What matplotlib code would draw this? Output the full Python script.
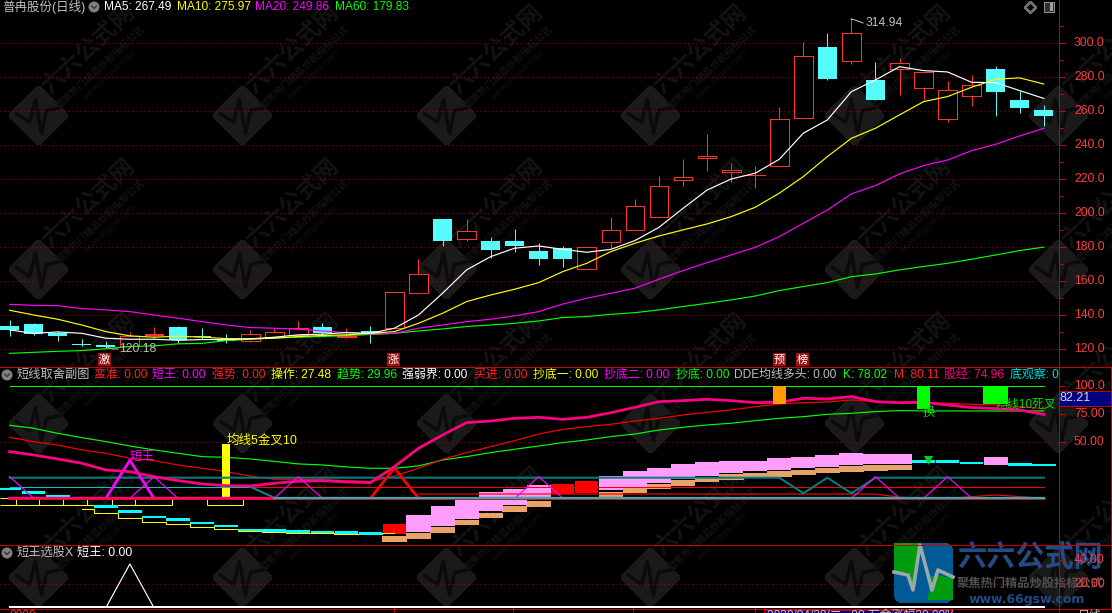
import matplotlib
matplotlib.use("Agg")
import matplotlib.pyplot as plt
from matplotlib.patches import Polygon, FancyBboxPatch, Rectangle, Circle

plt.rcParams['font.family'] = ['Liberation Sans', 'Noto Sans CJK SC', 'DejaVu Sans']
plt.rcParams['patch.antialiased'] = False
plt.rcParams['lines.scale_dashes'] = False

# ---- main panel values ----
candle_open = [133.4, 134.5, 128.9, 122.8, 122.2, 121.8, 128.2, 132.8, 127.3, 125.9, 124.3, 126.7, 128.1, 132.8, 127.1,
               130.4, 132.4, 153.0, 196.4, 184.9, 183.5, 183.5, 177.6, 179.2, 167.2, 183.1, 190.2, 197.8, 219.6, 232.6,
               224.1, 222.2, 227.9, 256.2, 297.8, 289.8, 278.4, 284.7, 273.9, 255.2, 269.2, 284.9, 266.6, 260.7]
candle_close = [131.0, 128.7, 127.5, 122.4, 120.8, 127.5, 128.8, 124.9, 126.9, 124.3, 128.5, 129.6, 132.4, 128.9, 127.7,
                128.5, 153.2, 163.8, 183.5, 189.2, 178.2, 180.5, 172.9, 172.9, 179.7, 189.8, 203.9, 215.7, 221.0, 233.8,
                225.3, 222.6, 255.2, 292.3, 279.0, 305.9, 266.6, 288.2, 282.9, 272.3, 275.2, 271.5, 262.1, 257.4]
candle_high = [136.9, 135.3, 130.4, 125.5, 124.5, 129.8, 132.8, 133.4, 132.2, 128.5, 131.0, 132.4, 136.3, 135.3, 132.0,
               133.4, 153.2, 172.7, 196.4, 196.4, 185.8, 190.5, 182.1, 180.5, 180.1, 197.6, 208.2, 221.8, 231.8, 246.6,
               229.5, 227.7, 262.5, 300.8, 306.1, 314.94, 289.0, 291.4, 282.9, 277.8, 281.3, 286.8, 272.1, 263.6]
candle_low = [127.7, 128.3, 124.7, 121.8, 120.18, 121.2, 126.5, 123.5, 125.5, 123.0, 123.9, 126.3, 127.5, 127.5, 126.3,
              123.3, 132.0, 152.4, 180.5, 183.5, 173.3, 177.0, 169.3, 168.3, 167.2, 179.2, 190.2, 197.8, 216.1, 224.7,
              218.5, 214.9, 227.9, 256.2, 278.4, 288.0, 266.6, 269.5, 266.4, 253.8, 263.1, 257.2, 258.9, 251.3]

ma5 = [131.0, 129.0, 129.8, 129.0, 126.1, 125.5, 125.5, 124.9, 125.3, 125.3, 125.7, 126.7, 128.1, 128.5, 129.4,
       129.0, 132.0, 139.8, 152.6, 166.4, 174.2, 179.2, 180.5, 178.5, 176.8, 178.5, 183.7, 191.5, 202.7, 213.5,
       220.0, 223.4, 231.6, 247.0, 254.8, 271.5, 278.4, 286.2, 283.9, 283.1, 277.0, 276.8, 272.1, 267.49]
ma10 = [142.6, 139.8, 137.3, 133.9, 130.0, 127.5, 126.7, 127.3, 126.7, 125.9, 125.7, 126.1, 127.1, 127.7, 128.1,
        129.0, 130.0, 134.9, 140.8, 147.7, 151.6, 155.0, 158.9, 165.4, 170.3, 177.2, 182.1, 186.4, 190.0, 193.5,
        197.8, 203.3, 211.6, 221.4, 233.2, 244.0, 249.9, 257.8, 265.6, 268.6, 274.1, 278.8, 279.6, 275.97]
ma20 = [146.1, 145.5, 145.3, 143.6, 142.8, 141.8, 139.8, 137.9, 135.9, 133.9, 132.4, 132.0, 131.4, 130.4, 129.4,
        128.5, 129.0, 132.0, 133.9, 135.9, 137.3, 139.3, 141.8, 146.3, 149.7, 152.6, 155.6, 160.9, 166.0, 170.7,
        175.2, 179.7, 186.0, 193.9, 201.7, 211.2, 216.1, 223.0, 227.9, 231.2, 236.7, 240.5, 245.4, 249.86]
ma60 = [117.2, 117.8, 118.4, 118.8, 119.9, 121.2, 121.6, 122.8, 123.1, 124.7, 125.5, 126.3, 126.7, 127.1, 127.7,
        128.3, 129.0, 130.4, 131.6, 133.0, 133.9, 134.9, 136.3, 138.3, 138.9, 140.2, 141.2, 142.8, 144.8, 146.7,
        148.7, 151.0, 154.2, 156.6, 158.9, 162.4, 164.0, 166.4, 168.4, 170.3, 172.7, 175.2, 177.8, 179.83]

price_ticks = [120, 140, 160, 180, 200, 220, 240, 260, 280, 300]

# ---- middle panel values ----
line_k = [65.2, 62.5, 58.0, 54.2, 50.6, 46.7, 43.2, 40.2, 37.2, 36.6, 35.1, 33.0, 30.7, 29.8, 28.0,
          26.8, 26.8, 28.9, 34.2, 37.2, 40.8, 43.8, 46.7, 49.7, 52.1, 55.1, 57.4, 61.0, 63.4, 65.5,
          67.0, 69.3, 71.4, 72.9, 75.0, 75.9, 77.4, 78.3, 78.0, 78.0, 78.0, 78.0, 78.0, 78.02]
line_m = [54.5, 50.6, 47.6, 43.2, 40.2, 35.7, 33.6, 29.8, 26.8, 23.8, 19.9, 17.0, 17.0, 16.4, 15.8,
          14.9, 19.9, 26.8, 34.8, 40.8, 46.1, 51.5, 57.4, 61.6, 64.0, 66.1, 69.0, 71.4, 74.4, 76.8,
          78.9, 81.8, 84.2, 85.4, 86.0, 87.8, 86.3, 85.4, 85.4, 84.8, 83.9, 83.3, 81.8, 80.11]
line_gujing = [41.7, 38.7, 35.1, 31.3, 25.3, 23.8, 19.3, 15.8, 12.8, 11.3, 11.0, 13.4, 15.2, 15.8, 14.6,
               14.0, 28.3, 44.6, 56.5, 67.6, 69.0, 71.4, 72.3, 70.5, 72.3, 76.5, 81.2, 86.3, 87.2, 88.4,
               87.2, 85.4, 85.7, 89.3, 88.7, 90.8, 86.3, 85.4, 85.7, 83.3, 81.0, 80.1, 78.9, 74.96]
line_teal = [18.4] * 33 + [4.5, 18.4, 4.5, 18.4] + [18.4] * 7
line_slope = [10.4] * 11 + [0.5] * 33
line_top = [100.0] * 44
line_ten = [10.0] * 44
line_buy = [None] * 17 + [3.8] * 20 + [1.0, 0.0, 0.0, 1.5, 3.0, 1.5, 0.0]
tri_wang = [0] * 4 + [0, 34, 0] + [0] * 37
tri_red = [0] * 15 + [0, 27, 0] + [0] * 26
tri_thin = [19.3, 0, 0, 0, 0, 0, 19.3, 0, 0, 0, 0, 0, 19.3, 0, 0, 0, 0, 0, 0, 0, 0, 0, 19.3, 0, 0, 0, 0, 0, 0, 0,
            0, 0, 0, 0, 0, 0, 19.3, 0, 0, 19.3, 0, 0, 0, 0]

# stepped blocks under the lines: (bar index, top, bottom)
cyan_idx = [0, 1, 2, 4, 5, 6, 7, 8, 9, 10, 11, 12, 13, 14, 15, 38, 39, 40, 42, 43]
cyan_mid = [8.3, 5.0, 1.5, -7.5, -11.9, -16.7, -19.1, -22.0, -24.7, -28.3, -28.6, -29.5, -30.1, -30.7, -31.3,
            32.7, 32.7, 31.5, 30.0, 29.7]
pink_idx = [17, 18, 19, 20, 21, 22, 25, 26, 27, 28, 29, 30, 31, 32, 33, 34, 35, 36, 37, 41]
pink_top = [-14.9, -6.9, -1.2, 5.6, 8.6, 11.9, 19.9, 24.4, 27.0, 30.6, 32.4, 33.3, 33.3, 36.0, 36.9, 38.7, 40.4, 39.6,
            39.6, 36.9]
pink_bot = [-30.4, -24.7, -18.2, -11.3, -5.7, -0.9, 7.4, 10.4, 14.0, 17.5, 19.9, 22.6, 24.4, 25.3, 27.0, 27.9, 29.7,
            30.6, 30.6, 29.7]
salmon_idx = [16, 17, 18, 19, 20, 21, 22, 25, 26, 27, 28, 29, 30, 31, 32, 33, 34, 35, 36, 37]
salmon_top = [-33.7, -30.7, -25.6, -19.1, -13.1, -6.9, -2.1, 5.9, 9.5, 12.8, 16.3, 19.0, 21.7, 22.9, 24.1, 25.3, 27.0,
              28.5, 29.7, 29.7]
salmon_bot = [-38.7, -36.3, -31.0, -23.8, -17.6, -12.2, -7.8, 1.2, 4.7, 8.3, 11.0, 14.6, 16.3, 18.1, 19.0, 20.8, 22.6,
              23.8, 24.7, 25.3]
redblock_idx = [16, 23, 24]
redblock_top = [-22.9, 12.8, 15.4]
redblock_bot = [-31.9, 3.5, 5.0]
yellow_low_idx = [3, 4, 5, 6, 7, 8, 9, 10, 11, 12, 13, 14, 15, 16]
yellow_low = [-9.3, -13.4, -17.6, -20.9, -23.2, -25.6, -27.7, -29.2, -30.1, -30.7, -31.3, -31.6, -31.9, -31.3]
yellow_box_edges = [0.25, 1.23, 2.22, 3.22, 4.26, 5.2, 6.75]
yellow_box2_edges = [8.2, 9.7]
sub_ticks = [50, 75, 100]

# bottom panel
wang_select = [0] * 4 + [0, 36.4, 0] + [0] * 37
bottom_ticks = [20, 40]

header_main = [("MA5: 267.49", 104, "#ffffff"), ("MA10: 275.97", 177, "#ffff00"),
               ("MA20: 249.86", 255, "#ff00ff"), ("MA60: 179.83", 335, "#00ff00")]
header_sub = [("蛮准: 0.00", 93.5, "#ff2020"), ("短王: 0.00", 152.5, "#ff00ff"), ("强势: 0.00", 212, "#ff2020"),
              ("操作: 27.48", 271, "#ffff00"), ("趋势: 29.96", 337, "#00ff00"), ("强弱界: 0.00", 402.5, "#ffffff"),
              ("买进: 0.00", 474, "#ff2020"), ("抄底一: 0.00", 533, "#ffff00"), ("抄底二: 0.00", 604, "#ff00ff"),
              ("抄底: 0.00", 675.5, "#00ff00"), ("DDE均线多头: 0.00", 734, "#c0c0c0"), ("K: 78.02", 843, "#00ff00"),
              ("M: 80.11", 893.5, "#ff2020"), ("股经: 74.96", 944, "#ff0080"), ("底观察: 0", 1010, "#00e0e0")]

W, H = 1112, 613
AXIS_X = 1058.5
PX = 0.72  # one pixel as a line width
THIN = 0.85  # sloped lines, smoothed so they stay light
RED = "#ff3232"
FRAME = "#cc0000"
CYAN = "#54fcfc"
GRID = dict(color="#b00000", lw=PX, ls=(0, (PX, 3 * PX)))

fig = plt.figure(figsize=(W / 100, H / 100), dpi=100, facecolor="black")


def panel(top, bottom, ymin, ymax, z):
    # axes placed by pixel rows, x runs over bar numbers
    ax = fig.add_axes([0, 1 - bottom / H, AXIS_X / W, (bottom - top) / H], zorder=z)
    ax.patch.set_alpha(0)
    ax.set_xlim(-0.4, 43.61)
    ax.set_ylim(ymin, ymax)
    ax.axis("off")
    return ax


bg = fig.add_axes([0, 0, 1, 1], zorder=0)
bg.set_xlim(0, W)
bg.set_ylim(H, 0)
bg.axis("off")

# watermark tiles
mark_cols = [38.5, 242.5, 446.5, 650.5, 854.5, 1058.5]
mark_rows = [115.5, 269.5, 423.5, 577.5]
pulse_dx = [-22, -9, -3, 3, 8, 22]
pulse_dy = [-2, 7, -16, 18, -5, -8]
for cy in mark_rows:
    for cx in mark_cols:
        bg.add_patch(Polygon([(cx - 24, cy), (cx, cy - 24), (cx + 24, cy), (cx, cy + 24)], closed=True,
                             fc="#1a1a1a", ec="#1a1a1a", lw=7, joinstyle="round"))
        bg.plot([cx + d for d in pulse_dx], [cy + d for d in pulse_dy], color="#0b0b0b", lw=2.5)
        bg.text(cx + 50, cy - 66, "六六公式网", color="#131313", fontsize=17, fontweight="bold", rotation=43,
                ha="center", va="center", family=["Noto Sans CJK SC"], clip_on=True)
        bg.text(cx + 62, cy - 48, "聚焦热门精品炒股指标公式", color="#131313", fontsize=7, fontweight="bold",
                rotation=43, ha="center", va="center", family=["Noto Sans CJK SC"], clip_on=True)
        bg.text(cx + 71, cy - 41, "www.66gsw.com", color="#121212", fontsize=6.5, rotation=43, ha="center",
                va="center", clip_on=True)

# ---- main panel ----
ax1 = panel(0, 366, 300 - (366 - 43.3) / 1.696, 300 + 43.3 / 1.696, 2)
x = list(range(len(candle_open)))
for p in price_ticks:
    ax1.axhline(p, zorder=1, **GRID)
for i in x:
    o, c, h, l = candle_open[i], candle_close[i], candle_high[i], candle_low[i]
    top, bot = max(o, c), min(o, c)
    if c >= o:
        ax1.vlines(i, top, h, color=RED, lw=PX, zorder=2)
        ax1.vlines(i, l, bot, color=RED, lw=PX, zorder=2)
        ax1.bar(i, top - bot, bottom=bot, width=0.78, facecolor="black", edgecolor=RED, lw=PX, zorder=3)
    else:
        ax1.vlines(i, l, h, color=CYAN, lw=PX, zorder=2)
        ax1.bar(i, top - bot, bottom=bot, width=0.78, color=CYAN, zorder=3)
ax1.plot(x, ma60, color="#00ff00", lw=THIN, zorder=4)
ax1.plot(x, ma20, color="#ff00ff", lw=THIN, zorder=4)
ax1.plot(x, ma10, color="#ffff00", lw=THIN, zorder=5)
ax1.plot(x, ma5, color="#ffffff", lw=THIN, zorder=6)

# ---- middle panel ----
ax2 = panel(366, 544, 50 - (544 - 442.3) / 1.12, 50 + (442.3 - 366) / 1.12, 3)
ax2.axhline(50, zorder=1, **GRID)
ax2.bar(salmon_idx, [t - b for t, b in zip(salmon_top, salmon_bot)], bottom=salmon_bot, width=1.03,
        color="#e8a468", zorder=2)
ax2.bar(pink_idx, [t - b for t, b in zip(pink_top, pink_bot)], bottom=pink_bot, width=1.0, color="#ff9cfc", zorder=2)
ax2.bar(redblock_idx, [t - b for t, b in zip(redblock_top, redblock_bot)], bottom=redblock_bot, width=0.96,
        color="#ff0000", zorder=2)
ax2.bar(cyan_idx, [2.4] * len(cyan_idx), bottom=[v - 1.2 for v in cyan_mid], width=0.98, color="#00ffff", zorder=3)
ax2.step(yellow_low_idx, yellow_low, where="mid", color="#ffff00", lw=PX, zorder=2.5)
ax2.plot(x, line_top, color="#00ff00", lw=PX, zorder=2)
ax2.plot(x, line_ten, color="#ff0000", lw=PX, zorder=2)
ax2.plot(x, line_buy, color="#ff0000", lw=THIN, zorder=2)
ax2.plot(x, line_k, color="#00ff00", lw=THIN, zorder=3)
ax2.plot(x, line_m, color="#ff0000", lw=THIN, zorder=3)
ax2.plot(x, line_teal, color="#008080", lw=1.45, zorder=4)
ax2.plot(x[:11], line_slope[:11], color="#00c8c8", lw=PX, zorder=4)
ax2.plot(x[10:12], line_slope[10:12], color="#008c8c", lw=1.45, zorder=4)
ax2.plot(x, tri_red, color="#ff0000", lw=2.0, zorder=4)
ax2.plot(x, tri_wang, color="#ff00ff", lw=2.0, zorder=5)
ax2.plot(x, line_gujing, color="#ff0080", lw=2.0, zorder=5)
ax2.plot(x, tri_thin, color="#ff00ff", lw=THIN, zorder=5)
ax2.plot(x, [-1.0] * 44, color="#ff0000", lw=PX, zorder=5)
ax2.plot(x, [0.0] * 44, color="#ff0080", lw=2 * PX, zorder=6)
ax2.plot(x[11:], line_slope[11:], color="#00c0c0", lw=1.45, zorder=7)
# yellow open boxes below zero
ax2.hlines(-5.6, -0.4, yellow_box_edges[-1], color="#ffff00", lw=PX, zorder=2)
ax2.vlines(yellow_box_edges, -5.6, 0, color="#ffff00", lw=PX, zorder=2)
ax2.hlines(-5.6, yellow_box2_edges[0], yellow_box2_edges[1], color="#ffff00", lw=PX, zorder=2)
ax2.vlines(yellow_box2_edges, -5.6, 0, color="#ffff00", lw=PX, zorder=2)
ax2.hlines(0.2, -0.4, 0.6, color="#ffff00", lw=PX, zorder=2)
# marker bars hanging from the top line and the yellow signal bar
ax2.bar([9], [48.0], bottom=[0.5], width=0.3, color="#ffff00", zorder=3)
ax2.bar([32], [15.8], bottom=[84.2], width=0.55, color="#ff9c00", zorder=6)
ax2.bar([38], [20.0], bottom=[80.0], width=0.55, color="#00ff00", zorder=6)
ax2.bar([41], [15.8], bottom=[84.2], width=1.04, color="#00ff00", zorder=6)
ax2.scatter([38.2], [34.2], marker="v", s=42, color="#00d020", zorder=8, linewidths=0)
ax2.text(5.0, 32, "短王", color="#ff00ff", fontsize=9, ha="left", va="bottom", zorder=8)
ax2.text(9.0, 46.5, "均线5金叉10", color="#ffff00", fontsize=9, ha="left", va="bottom", zorder=8)
ax2.text(38.2, 76, "换", color="#00e000", fontsize=9, ha="center", va="center", zorder=8)
ax2.text(41.0, 83, "均线10死叉", color="#00e000", fontsize=8.6, ha="left", va="center", zorder=8, clip_on=True)

# ---- bottom panel ----
ax3 = panel(544, 608, -0.25, 53, 4)
ax3.axhline(20, zorder=1, **GRID)
ax3.plot(x, wang_select, color="#ffffff", lw=THIN, zorder=3)
ax3.plot(x, [0.3] * 44, color="#ffffff", lw=2 * PX, zorder=3)

# ---- frame, labels and chrome in pixel coordinates ----
top = fig.add_axes([0, 0, 1, 1], zorder=6)
top.patch.set_alpha(0)
top.set_xlim(0, W)
top.set_ylim(H, 0)
top.axis("off")

# site logo, bottom right
top.add_patch(FancyBboxPatch((898, 547), 51, 52, boxstyle="round,pad=0,rounding_size=4", fc="#005a96", ec="#005a96",
                             lw=5, zorder=1))
top.add_patch(Polygon([(894, 543), (920, 543), (912, 585), (908, 572), (894, 570)], fc="#009c10", zorder=1.5))
top.add_patch(Polygon([(928, 600), (953, 600), (953, 578), (932, 576)], fc="#009c10", zorder=1.5))
top.plot([894, 908, 913, 920, 932, 938, 953], [572, 575, 590, 545, 590, 570, 577], color="#9aa8a8", lw=2.6, zorder=2)
top.text(1030, 557, "六六公式网", color="#264a86", fontsize=21, fontweight="bold", ha="center", va="center",
         family=["Noto Sans CJK SC"], zorder=2)
top.text(1030, 584, "聚焦热门精品炒股指标公式", color="#505050", fontsize=8.8, fontweight="bold", ha="center", va="center",
         family=["Noto Sans CJK SC"], zorder=2)
top.text(1027, 599, "www.66gsw.com", color="#204a8a", fontsize=9, fontweight="bold", ha="center", va="center",
         family=["DejaVu Sans"], zorder=2)

# frame lines
for py in (366.5, 544.5, 608.5):
    top.plot([0, W], [py, py], color=FRAME, lw=PX, zorder=3)
top.plot([AXIS_X, AXIS_X], [0, H], color=FRAME, lw=PX, zorder=3)
top.plot([1110.5, 1110.5], [366, 608], color=FRAME, lw=PX, zorder=3)
for tx in (393.5, 513, 633, 755):
    top.plot([tx, tx], [608, H], color=FRAME, lw=PX, zorder=3)

# price axis ticks and labels
TXT = dict(color="#ff3c3c", fontsize=8.7, ha="left", va="center", zorder=4)
for p in price_ticks:
    py = 43.3 + (300 - p) * 1.696
    top.plot([AXIS_X, AXIS_X + 6], [py, py], color=FRAME, lw=PX, zorder=3)
    top.plot([AXIS_X, AXIS_X + 3], [py - 17, py - 17], color=FRAME, lw=PX, zorder=3)
    top.text(1074, py, f"{p:.1f}", **TXT)
for v, label in zip(sub_ticks, ["50.00", "75.00", "100.0"]):
    py = 442.3 + (50 - v) * 1.12
    top.plot([AXIS_X, AXIS_X + 6], [py, py], color=FRAME, lw=PX, zorder=3)
    top.text(1074, py, label, **TXT)
for v, label in zip(bottom_ticks, ["20.00", "40.00"]):
    py = 607.7 - v * 1.2
    top.plot([AXIS_X, AXIS_X + 6], [py, py], color=FRAME, lw=PX, zorder=3)
    top.text(1074, py, label, **TXT)
top.add_patch(Rectangle((AXIS_X, 390.5), 52, 15.5, fc="#000080", ec=FRAME, lw=PX, zorder=5))
top.text(1060, 398, "82.21", color="#d8d8e8", fontsize=9, ha="left", va="center", zorder=6)

# panel headers
for cx, cy in ((94, 7), (7, 375), (7, 553)):
    top.add_patch(Circle((cx, cy), 5.5, fc="#808080", ec="none", antialiased=True, zorder=4))
    top.plot([cx - 2.5, cx, cx + 2.5], [cy - 1, cy + 1.5, cy - 1], color="#202020", lw=PX, zorder=5)
top.text(2, 7, "普冉股份(日线)", color="#c0c0c0", fontsize=9.0, ha="left", va="center")
for s, px, col in header_main:
    top.text(px, 7, s, color=col, fontsize=8.6, ha="left", va="center")
top.text(17, 375, "短线取舍副图", color="#c0c0c0", fontsize=8.8, ha="left", va="center")
clip = Rectangle((0, 366), AXIS_X, 20, transform=top.transData)
for s, px, col in header_sub:
    t = top.text(px, 375, s, color=col, fontsize=8.6, ha="left", va="center")
    t.set_clip_path(clip)
top.text(17, 553, "短王选股X", color="#c0c0c0", fontsize=8.8, ha="left", va="center")
top.text(77, 553, "短王: 0.00", color="#ffffff", fontsize=8.8, ha="left", va="center")

# high and low notes
top.plot([851, 855, 863], [19, 20, 23], color="#c0c0c0", lw=PX)
top.text(865.5, 23, "314.94", color="#c0c0c0", fontsize=8.7, ha="left", va="center")
top.plot([105, 112, 118], [346, 349, 349], color="#c0c0c0", lw=PX)
top.text(119, 349, "120.18", color="#c0c0c0", fontsize=8.7, ha="left", va="center")

# signal flags above the panel line
for s, px in (("激", 98), ("涨", 387), ("预", 773), ("榜", 796)):
    top.add_patch(Rectangle((px, 353), 13, 13, fc="#a01010", ec="none", zorder=2))
    top.text(px + 6.5, 359.5, s, color="#ffffff", fontsize=8, ha="center", va="center", zorder=2)

# corner icons
top.add_patch(Polygon([(1030.5, 2), (1036, 7.5), (1030.5, 13), (1025, 7.5)], fc="none", ec="#707070", lw=PX))
top.add_patch(Rectangle((1044, 2), 10, 10, fc="#303030", ec="#909090", lw=PX))
top.add_patch(Rectangle((1050, 3), 3, 8, fc="#a0a0a0", ec="none"))

# bottom status strip, cut by the picture edge
top.add_patch(Rectangle((764, 610), 188, 6, fc="#000080", ec=FRAME, lw=PX, zorder=2))
top.text(767, 610, "2020/04/28/二   90 万金涨幅20.00%", color="#c8c8c8", fontsize=8.6, ha="left", va="top", zorder=3)
top.text(10, 610, "0000", color="#ff3232", fontsize=8.6, ha="left", va="top")
top.text(1078, 610, "日线", color="#c0c0c0", fontsize=8.6, ha="left", va="top")

fig.savefig("out.png", dpi=100, facecolor="black")
